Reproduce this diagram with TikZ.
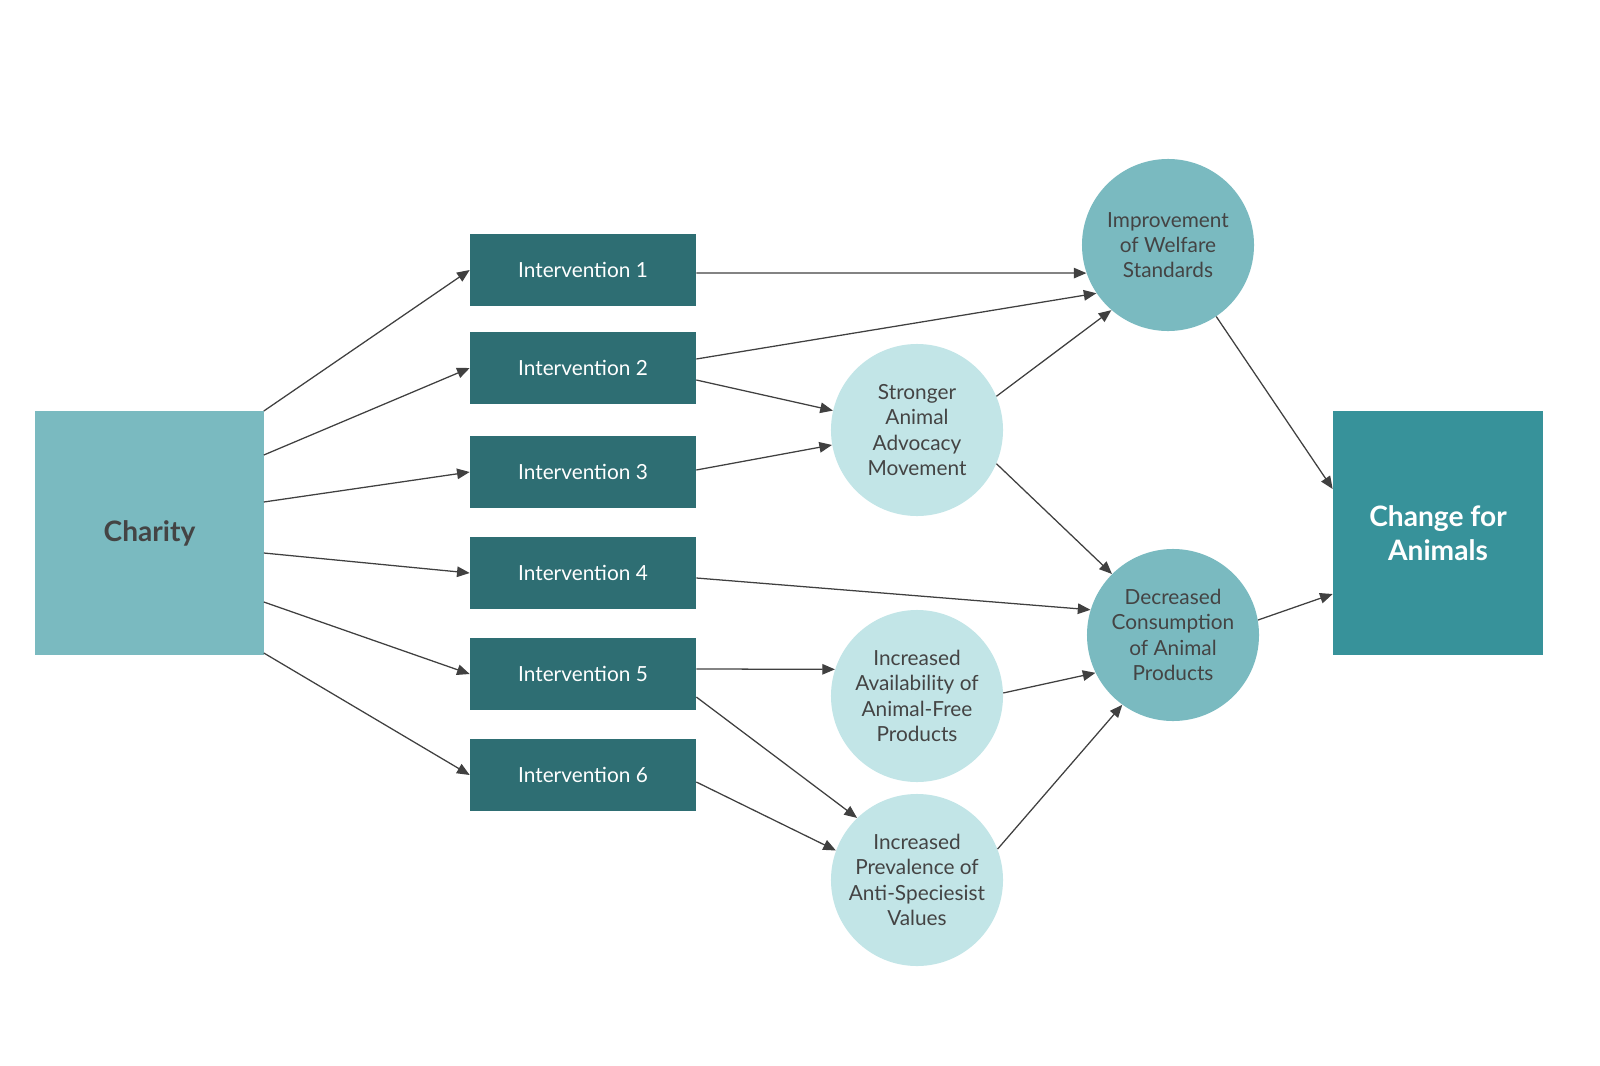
\documentclass[tikz,border=0pt]{standalone}
\usepackage{fontspec}
\setmainfont{Lato}
\usetikzlibrary{arrows.meta,calc}
\definecolor{darkteal}{HTML}{2E6E73}
\definecolor{midteal}{HTML}{37929A}
\definecolor{softteal}{HTML}{7ABAC0}
\definecolor{paleteal}{HTML}{C2E5E7}
\definecolor{inkgray}{HTML}{444444}
\definecolor{arrowgray}{HTML}{404040}
\begin{document}
\begin{tikzpicture}[x=0.025cm, y=-0.025cm,
  interv/.style={fill=darkteal, text=white, minimum width=5.65cm, minimum height=1.8cm, inner sep=0pt, font=\fontsize{14.8}{17}\selectfont},
  bigbox/.style={minimum height=6.1cm, inner sep=0pt, align=center, font=\bfseries\fontsize{20}{24}\selectfont},
  outcome/.style={circle, minimum size=4.3cm, inner sep=0pt, align=center, text=inkgray, font=\fontsize{14.8}{18}\selectfont},
  link/.style={draw=arrowgray, line width=0.9pt, -{Triangle[length=9pt,width=7.5pt]}}]
\useasboundingbox (0,0) rectangle (1600,1066);
\node[bigbox, fill=softteal, text=inkgray, minimum width=5.7cm] (charity) at (149.5,533) {Charity};
\node[interv] (i1) at (583,270) {Intervention 1};
\node[interv] (i2) at (583,368) {Intervention 2};
\node[interv] (i3) at (583,472) {Intervention 3};
\node[interv] (i4) at (583,573) {Intervention 4};
\node[interv] (i5) at (583,674) {Intervention 5};
\node[interv] (i6) at (583,775) {Intervention 6};
\node[outcome, fill=softteal] (welfare) at (1168,245) {Improvement\\of Welfare\\Standards};
\node[outcome, fill=paleteal] (movement) at (917,430) {Stronger\\Animal\\Advocacy\\Movement};
\node[outcome, fill=softteal] (consumption) at (1173,635) {Decreased\\Consumption\\of Animal\\Products};
\node[outcome, fill=paleteal] (availability) at (917,696) {Increased\\Availability of\\Animal-Free\\Products};
\node[outcome, fill=paleteal] (values) at (917,880) {Increased\\Prevalence of\\Anti-Speciesist\\Values};
\node[bigbox, fill=midteal, text=white, minimum width=5.25cm] (change) at (1438,533) {Change for\\Animals};
% charity to interventions
\draw[link] ($(charity.east)+(0,-122)$) -- (i1.west);
\draw[link] ($(charity.east)+(0,-78)$) -- (i2.west);
\draw[link] ($(charity.east)+(0,-31)$) -- (i3.west);
\draw[link] ($(charity.east)+(0,20)$) -- (i4.west);
\draw[link] ($(charity.east)+(0,69)$) -- (i5.west);
\draw[link] ($(charity.east)+(0,120)$) -- (i6.west);
% interventions to outcomes
\draw[link] ($(i1.east)+(0,3)$) -- (welfare.199);
\draw[link] ($(i2.east)+(0,-9)$) -- (welfare.214);
\draw[link] ($(i2.east)+(0,12)$) -- (movement.167);
\draw[link] ($(i3.east)+(0,-2)$) -- (movement.190);
\draw[link] ($(i4.east)+(0,5)$) -- (consumption.163);
\draw[link] ($(i5.east)+(0,-5)$) -- (availability.162);
\draw[link] ($(i5.east)+(0,23)$) -- (values.134);
\draw[link] ($(i6.east)+(0,7)$) -- (values.160);
% outcomes to outcomes
\draw[link] (movement.23) -- (welfare.229);
\draw[link] (movement.337) -- (consumption.135);
\draw[link] (availability.2) -- (consumption.206);
\draw[link] (values.21) -- (consumption.234);
% outcomes to change
\draw[link] (welfare.304) -- ($(change.west)+(0,-44)$);
\draw[link] (consumption.10) -- ($(change.west)+(0,61)$);
\end{tikzpicture}
\end{document}
